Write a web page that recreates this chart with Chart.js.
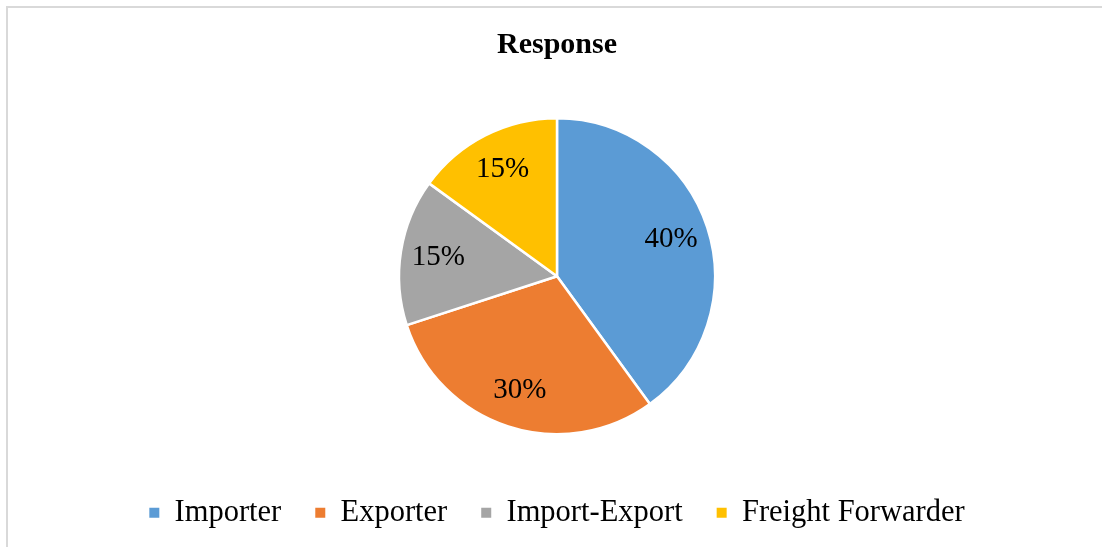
<!DOCTYPE html>
<html>
<head>
<meta charset="utf-8">
<title>Response</title>
<script src="https://cdn.jsdelivr.net/npm/chart.js@4/dist/chart.umd.min.js"></script>
<style>
  html, body { margin: 0; padding: 0; background: #fff; }
  #wrap { width: 1102px; height: 547px; position: relative; }
</style>
</head>
<body>
<div id="wrap"><canvas id="myChart" width="1102" height="547"></canvas></div>
<script>
// Chart data
const categories = ['Importer', 'Exporter', 'Import-Export', 'Freight Forwarder'];
const shares = [40, 30, 15, 15];
const sliceColors = ['#5B9BD5', '#ED7D31', '#A5A5A5', '#FFC000'];

const serif = "'Liberation Serif', 'Times New Roman', serif";

// light grey frame along the left and top edges
const framePlugin = {
  id: 'frame',
  beforeDraw(chart) {
    const c = chart.ctx;
    c.save();
    c.strokeStyle = '#d9d9d9';
    c.lineWidth = 2;
    c.beginPath();
    c.moveTo(7, chart.height);
    c.lineTo(7, 7);
    c.lineTo(chart.width, 7);
    c.stroke();
    c.restore();
  }
};

// percentage labels inside the slices
const sliceLabels = {
  id: 'sliceLabels',
  afterDatasetsDraw(chart) {
    const c = chart.ctx;
    const meta = chart.getDatasetMeta(0);
    c.save();
    c.font = '29px ' + serif;
    c.fillStyle = '#000';
    c.textAlign = 'center';
    c.textBaseline = 'middle';
    meta.data.forEach((arc, i) => {
      const mid = (arc.startAngle + arc.endAngle) / 2;
      const r = arc.outerRadius * 0.76;
      c.fillText(shares[i] + '%', arc.x + Math.cos(mid) * r, arc.y + Math.sin(mid) * r);
    });
    c.restore();
  }
};

const ctx = document.getElementById('myChart').getContext('2d');
const chart = new Chart(ctx, {
  type: 'pie',
  data: {
    labels: categories,
    datasets: [{
      data: shares,
      backgroundColor: sliceColors,
      borderColor: '#ffffff',
      borderWidth: 2.5,
      radius: 158
    }]
  },
  options: {
    responsive: false,
    animation: false,
    layout: { padding: { left: 12, right: 0, top: 0, bottom: 9 } },
    plugins: {
      tooltip: { enabled: false },
      title: {
        display: true,
        text: 'Response',
        color: '#000',
        font: { family: serif, size: 30, weight: 'bold' },
        padding: { top: 27, bottom: 26 }
      },
      legend: {
        position: 'bottom',
        labels: {
          color: '#000',
          font: { family: serif, size: 30.5 },
          boxWidth: 10,
          boxHeight: 10,
          padding: 34,
          generateLabels: (c) => Chart.overrides.pie.plugins.legend.labels.generateLabels(c)
            .map(l => ({ ...l, lineWidth: 0 }))
        }
      }
    }
  },
  plugins: [framePlugin, sliceLabels]
});
</script>
</body>
</html>
